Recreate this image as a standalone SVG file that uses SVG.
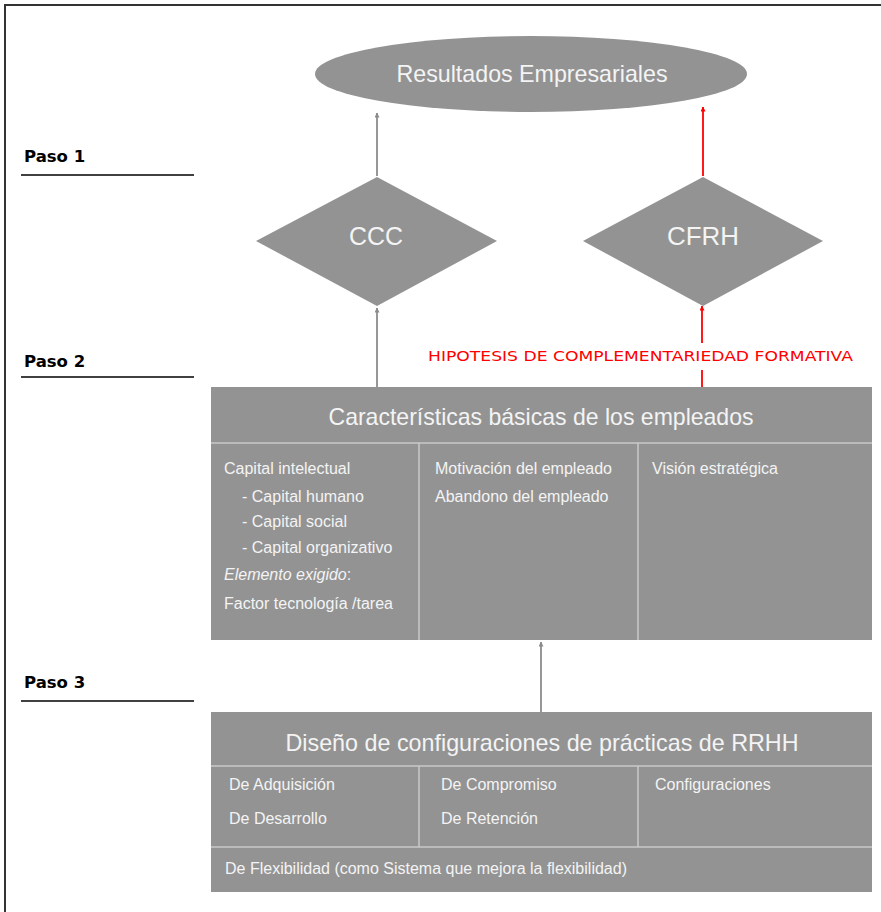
<svg xmlns="http://www.w3.org/2000/svg" width="881" height="912" viewBox="0 0 881 912">
<defs>
<style>
.box{fill:#939393;}
.div{stroke:#c8c8c8;stroke-width:1.5;fill:none;}
.t{font-family:"Liberation Sans",Arial,sans-serif;fill:#f4f4f4;}
.big{font-size:24px;text-anchor:middle;}
.sm{font-size:16px;}
.paso{font-family:"DejaVu Sans",Verdana,sans-serif;font-weight:bold;font-size:16.5px;fill:#000;}
.pl{stroke:#000;stroke-width:1.5;}
.ga{stroke:#8c8c8c;stroke-width:1.8;fill:none;}
.ra{stroke:#ff0000;stroke-width:1.8;fill:none;}
</style>
<marker id="mg" viewBox="0 0 10 10" refX="9" refY="5" markerWidth="5" markerHeight="5" orient="auto" markerUnits="userSpaceOnUse">
<path d="M0,0 L10,5 L0,10 z" fill="#8c8c8c"/>
</marker>
<marker id="mr" viewBox="0 0 10 10" refX="9" refY="5" markerWidth="5" markerHeight="5" orient="auto" markerUnits="userSpaceOnUse">
<path d="M0,0 L10,5 L0,10 z" fill="#ff0000"/>
</marker>
</defs>
<rect x="0" y="0" width="881" height="912" fill="#ffffff"/>
<rect x="5" y="5" width="900" height="1000" fill="none" stroke="#333" stroke-width="2"/>

<g id="paso1"><text class="paso" x="24" y="162">Paso 1</text><line class="pl" x1="21" y1="175" x2="194" y2="175"/></g>
<g id="paso2"><text class="paso" x="24" y="367">Paso 2</text><line class="pl" x1="21" y1="377" x2="194" y2="377"/></g>
<g id="paso3"><text class="paso" x="24" y="688">Paso 3</text><line class="pl" x1="21" y1="701" x2="194" y2="701"/></g>

<g id="connectors">
<line class="ga" x1="377" y1="176" x2="377" y2="113" marker-end="url(#mg)"/>
<line class="ra" x1="703" y1="176" x2="703" y2="107" marker-end="url(#mr)"/>
<line class="ga" x1="377" y1="387" x2="377" y2="308" marker-end="url(#mg)"/>
<line class="ra" x1="702" y1="343" x2="702" y2="306" marker-end="url(#mr)"/>
<line class="ra" x1="702" y1="370" x2="702" y2="387"/>
<line class="ga" x1="541" y1="712" x2="541" y2="642" marker-end="url(#mg)"/>
</g>

<text id="hipotesis" x="428" y="361" font-family="'DejaVu Sans',Verdana,sans-serif" font-size="13.5" fill="#ff0000" textLength="425" lengthAdjust="spacingAndGlyphs">HIPOTESIS DE COMPLEMENTARIEDAD FORMATIVA</text>

<g id="resultados">
<ellipse class="box" cx="531" cy="74" rx="216" ry="38"/>
<text class="t big" x="532" y="82" textLength="271" lengthAdjust="spacingAndGlyphs">Resultados Empresariales</text>
</g>

<g id="ccc">
<polygon class="box" points="377,177 497,241 377,306 256,241"/>
<text class="t" x="376" y="245" font-size="25" text-anchor="middle" textLength="54" lengthAdjust="spacingAndGlyphs">CCC</text>
</g>

<g id="cfrh">
<polygon class="box" points="703,177 823,241 703,306 583,241"/>
<text class="t" x="703" y="245" font-size="25" text-anchor="middle" textLength="72" lengthAdjust="spacingAndGlyphs">CFRH</text>
</g>

<g id="caracteristicas">
<rect class="box" x="211" y="387" width="661" height="253"/>
<line class="div" x1="211" y1="443" x2="872" y2="443"/>
<line class="div" x1="419" y1="443" x2="419" y2="640"/>
<line class="div" x1="638" y1="443" x2="638" y2="640"/>
<text class="t big" x="541" y="425" textLength="425" lengthAdjust="spacingAndGlyphs">Características básicas de los empleados</text>
<text class="t sm" x="224" y="474">Capital intelectual</text>
<text class="t sm" x="242" y="502">- Capital humano</text>
<text class="t sm" x="242" y="527">- Capital social</text>
<text class="t sm" x="242" y="553">- Capital organizativo</text>
<text class="t sm" x="224" y="580" font-style="italic">Elemento exigido<tspan font-style="normal">:</tspan></text>
<text class="t sm" x="224" y="609">Factor tecnología /tarea</text>
<text class="t sm" x="435" y="474">Motivación del empleado</text>
<text class="t sm" x="435" y="502">Abandono del empleado</text>
<text class="t sm" x="652" y="474">Visión estratégica</text>
</g>

<g id="diseno">
<rect class="box" x="211" y="712" width="661" height="180"/>
<line class="div" x1="211" y1="766" x2="872" y2="766"/>
<line class="div" x1="419" y1="766" x2="419" y2="847"/>
<line class="div" x1="638" y1="766" x2="638" y2="847"/>
<line class="div" x1="211" y1="847" x2="872" y2="847"/>
<text class="t big" x="542" y="751" textLength="513" lengthAdjust="spacingAndGlyphs">Diseño de configuraciones de prácticas de RRHH</text>
<text class="t sm" x="229" y="790">De Adquisición</text>
<text class="t sm" x="229" y="824">De Desarrollo</text>
<text class="t sm" x="441" y="790">De Compromiso</text>
<text class="t sm" x="441" y="824">De Retención</text>
<text class="t sm" x="655" y="790">Configuraciones</text>
<text class="t sm" x="225" y="874">De Flexibilidad (como Sistema que mejora la flexibilidad)</text>
</g>
</svg>
